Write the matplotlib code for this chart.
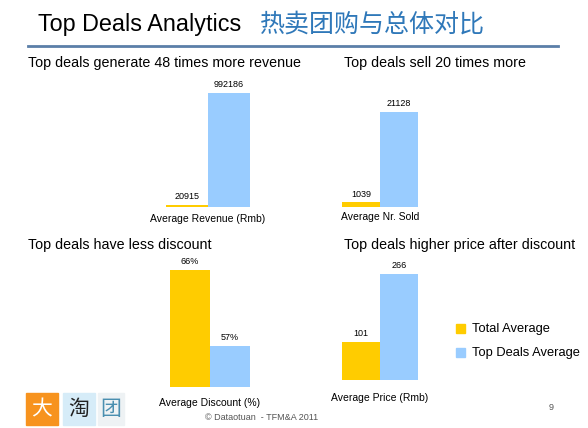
import matplotlib
matplotlib.use("Agg")
import matplotlib.pyplot as plt
from matplotlib.patches import Rectangle

plt.rcParams['font.family'] = ['Liberation Sans', 'Noto Sans CJK SC', 'DejaVu Sans']

series = ["Total Average", "Top Deals Average"]
colors = ["#FFCC00", "#99CCFF"]
revenue = [20915, 992186]
sold = [1039, 21128]
discount = [66, 57]
price = [101, 266]
disc_labels = ["66%", "57%"]

W, H = 588, 428
fig = plt.figure(figsize=(W/100, H/100), dpi=100)

def ax_px(l, r, b, t):
    return fig.add_axes([l/W, 1-b/H, (r-l)/W, (b-t)/H])

def panel(l, r, b, t, vals, ylim, labels, xlabel, xlab_y):
    ax = ax_px(l, r, b, t)
    ax.bar([0, 1], vals, width=1.0, color=colors)
    ax.set_xlim(-0.5, 1.5)
    ax.set_ylim(*ylim)
    ax.axis('off')
    for i, v in enumerate(vals):
        ax.text(i, v + (ylim[1]-ylim[0])*0.03, labels[i], ha='center', va='bottom', fontsize=6.5)
    fig.text(((l+r)/2)/W, 1-xlab_y/H, xlabel, ha='center', va='center', fontsize=7.5)
    return ax

panel(166, 250, 207, 85, revenue, (0, 992186*122/114), [str(v) for v in revenue], "Average Revenue (Rmb)", 219)
panel(342, 418, 207, 85, sold, (0, 21128*122/95), [str(v) for v in sold], "Average Nr. Sold", 217)
panel(170, 250, 387, 262, discount, (52.1, 52.1+125/8.44), disc_labels, "Average Discount (%)", 403)
panel(342, 418, 380, 262, price, (8, 8+118/0.412), [str(v) for v in price], "Average Price (Rmb)", 398)

fig.text(38/W, 1-25/H, "Top Deals Analytics", fontsize=16.8, va='center', ha='left')
fig.text(260/W, 1-25/H, "热卖团购与总体对比", fontsize=18, va='center', ha='left', color='#2f78b9',
         family=['Noto Sans CJK SC'])
fig.add_artist(plt.Line2D([28/W, 558/W], [1-46/H, 1-46/H], color='#5b7fa8', lw=2))

fs = 10.3
fig.text(28/W, 1-63/H, "Top deals generate 48 times more revenue", fontsize=fs, va='center')
fig.text(344/W, 1-63/H, "Top deals sell 20 times more", fontsize=fs, va='center')
fig.text(28/W, 1-245/H, "Top deals have less discount", fontsize=fs, va='center')
fig.text(344/W, 1-245/H, "Top deals higher price after discount", fontsize=fs, va='center')

for i, (s, c) in enumerate(zip(series, colors)):
    y = 329 + 24*i
    fig.add_artist(Rectangle((456/W, 1-(y+4)/H), 9/W, 9/H, color=c, transform=fig.transFigure))
    fig.text(472/W, 1-y/H, s, fontsize=9.3, va='center')

logo = [("大", "#F7931E", "white", 26, 58), ("淘", "#D6ECF8", "#222222", 63, 95), ("团", "#EEF2F4", "#4a8fb0", 98, 124)]
for ch, bg, fg, l, r in logo:
    fig.add_artist(Rectangle((l/W, 1-425/H), (r-l)/W, 32/H, color=bg, transform=fig.transFigure))
    fig.text(((l+r)/2)/W, 1-409/H, ch, fontsize=15, ha='center', va='center', color=fg,
             family=['Noto Sans CJK SC'])

fig.text(262/W, 1-417/H, "© Dataotuan  - TFM&A 2011", fontsize=6.5, ha='center', va='center', color='#555555')
fig.text(551/W, 1-408/H, "9", fontsize=6.5, ha='center', va='center', color='#555555')

fig.savefig("out.png", dpi=100)
